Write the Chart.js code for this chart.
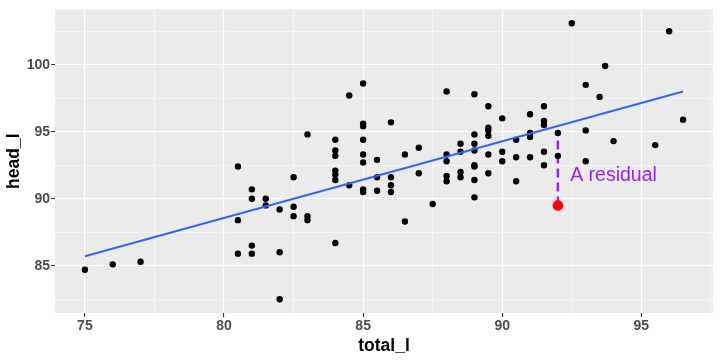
<!DOCTYPE html>
<html>
<head>
<meta charset="utf-8">
<script src="https://cdn.jsdelivr.net/npm/chart.js@4.4.1/dist/chart.umd.min.js"></script>
<style>
  html, body { margin: 0; padding: 0; background: #fff; }
  #wrap { width: 720px; height: 360px; }
</style>
</head>
<body>
<div id="wrap"><canvas id="chart" width="720" height="360"></canvas></div>
<script>
// total length (x) and head length (y)
const totalL = [
  75, 76, 77,
  80.5, 80.5, 80.5,
  81, 81, 81, 81,
  81.5, 81.5,
  82, 82, 82,
  82.5, 82.5, 82.5,
  83, 83, 83,
  84, 84, 84, 84, 84, 84, 84,
  84.5, 84.5,
  85, 85, 85, 85, 85, 85, 85, 85,
  85.5, 85.5, 85.5,
  86, 86, 86, 86,
  86.5, 86.5,
  87, 87,
  87.5,
  88, 88, 88, 88, 88,
  88.5, 88.5, 88.5, 88.5,
  89, 89, 89, 89, 89, 89, 89, 89,
  89.5, 89.5, 89.5, 89.5, 89.5, 89.5,
  90, 90, 90,
  90.5, 90.5, 90.5,
  91, 91, 91, 91,
  91.5, 91.5, 91.5, 91.5, 91.5,
  92, 92, 92,
  92.5,
  93, 93, 93,
  93.5, 93.7, 94, 95.5, 96, 96.5
];
const headL = [
  84.7, 85.1, 85.3,
  92.4, 88.4, 85.9,
  90.7, 90.0, 86.5, 85.9,
  90.0, 89.5,
  89.2, 86.0, 82.5,
  91.6, 89.4, 88.7,
  94.8, 88.7, 88.4,
  94.4, 93.6, 93.2, 92.1, 91.8, 91.4, 86.7,
  97.7, 91.0,
  98.6, 95.6, 95.4, 94.4, 93.3, 92.7, 90.7, 90.5,
  92.9, 91.6, 90.6,
  95.7, 91.6, 91.0, 90.5,
  93.3, 88.3,
  93.8, 91.9,
  89.6,
  98.0, 93.3, 92.8, 91.7, 91.3,
  94.1, 93.5, 92.0, 91.6,
  97.8, 94.8, 94.1, 93.6, 92.5, 92.4, 91.4, 90.1,
  96.9, 95.3, 95.1, 94.7, 93.3, 91.9,
  96.0, 93.5, 92.8,
  94.4, 93.1, 91.3,
  96.3, 94.9, 94.6, 93.1,
  96.9, 95.8, 95.5, 93.5, 92.5,
  94.9, 93.2, 89.5,
  103.1,
  98.5, 95.1, 92.8,
  97.6, 99.9, 94.3, 94.0, 102.5, 95.9
];

// fitted line ends, the highlighted residual and its label
const fitX = [75, 96.5];
const fitY = [85.7, 98.0];
const residX = [92, 92];
const residY = [89.5, 94.9];
const labelText = 'A residual';
const labelX = 94;
const labelY = 91.75;

// axis breaks
const xMajor = [75, 80, 85, 90, 95];
const xMinor = [77.5, 82.5, 87.5, 92.5, 97.5];
const yMajor = [85, 90, 95, 100];
const yMinor = [82.5, 87.5, 92.5, 97.5, 102.5];

const pts = totalL.map((x, i) => ({ x: x, y: headL[i] }));
const toXY = (xs, ys) => xs.map((x, i) => ({ x: x, y: ys[i] }));

const isMajor = (list) => (ctx) => ctx.tick && list.includes(ctx.tick.value);

function breaks(major, minor) {
  return (scale) => {
    scale.ticks = major.concat(minor).sort((a, b) => a - b).map(v => ({ value: v }));
  };
}

const panel = {
  id: 'panel',
  beforeDraw(chart) {
    const { ctx, chartArea: a } = chart;
    ctx.save();
    ctx.fillStyle = '#EBEBEB';
    ctx.fillRect(a.left, a.top, a.right - a.left, a.bottom - a.top);
    ctx.restore();
  },
  afterDraw(chart) {
    const { ctx, scales } = chart;
    ctx.save();
    ctx.font = '19.5px "Liberation Sans", Arial, sans-serif';
    ctx.fillStyle = '#A020F0';
    ctx.textAlign = 'center';
    ctx.textBaseline = 'middle';
    ctx.fillText(labelText, scales.x.getPixelForValue(labelX), scales.y.getPixelForValue(labelY));
    ctx.restore();
  }
};

const tickFont = { family: '"Liberation Sans", Arial, sans-serif', size: 14, weight: 'bold' };
const titleFont = { family: '"Liberation Sans", Arial, sans-serif', size: 17.5, weight: 'bold' };

new Chart(document.getElementById('chart'), {
  type: 'scatter',
  data: {
    datasets: [
      {
        data: toXY(residX, residY),
        showLine: true,
        borderColor: '#A020F0',
        borderWidth: 2.5,
        borderDash: [9, 5],
        pointRadius: 0,
        order: 4
      },
      {
        data: pts,
        backgroundColor: '#000000',
        borderWidth: 0,
        pointRadius: 3.2,
        order: 3
      },
      {
        data: toXY(fitX, fitY),
        showLine: true,
        borderColor: '#3366FF',
        borderWidth: 2,
        pointRadius: 0,
        order: 2
      },
      {
        data: [{ x: residX[0], y: residY[0] }],
        backgroundColor: '#FF0000',
        borderWidth: 0,
        pointRadius: 5.3,
        order: 1
      }
    ]
  },
  options: {
    responsive: false,
    animation: false,
    layout: { padding: { left: 0, right: 7, top: 5, bottom: 0 } },
    plugins: { legend: { display: false }, tooltip: { enabled: false } },
    scales: {
      x: {
        type: 'linear',
        min: 73.925,
        max: 97.575,
        afterBuildTicks: breaks(xMajor, xMinor),
        afterFit: (s) => { s.height = 47; },
        border: { display: false },
        grid: {
          color: '#FFFFFF',
          lineWidth: (ctx) => isMajor(xMajor)(ctx) ? 1.1 : 0.5,
          tickColor: (ctx) => isMajor(xMajor)(ctx) ? '#333333' : 'rgba(0,0,0,0)',
          tickWidth: 1.1,
          tickLength: 4
        },
        ticks: {
          autoSkip: false,
          maxRotation: 0,
          padding: 1,
          color: '#4D4D4D',
          font: tickFont,
          callback: (v) => xMajor.includes(v) ? String(v) : ''
        },
        title: {
          display: true,
          text: 'total_l',
          color: '#000000',
          font: titleFont,
          padding: { top: 0, bottom: 3 }
        }
      },
      y: {
        type: 'linear',
        min: 81.47,
        max: 104.13,
        afterBuildTicks: breaks(yMajor, yMinor),
        afterFit: (s) => { s.width = 55; },
        border: { display: false },
        grid: {
          color: '#FFFFFF',
          lineWidth: (ctx) => isMajor(yMajor)(ctx) ? 1.1 : 0.5,
          tickColor: (ctx) => isMajor(yMajor)(ctx) ? '#333333' : 'rgba(0,0,0,0)',
          tickWidth: 1.1,
          tickLength: 4
        },
        ticks: {
          autoSkip: false,
          padding: 1,
          color: '#4D4D4D',
          font: tickFont,
          callback: (v) => yMajor.includes(v) ? String(v) : ''
        },
        title: {
          display: true,
          text: 'head_l',
          color: '#000000',
          font: titleFont,
          padding: { top: 4, bottom: 0 }
        }
      }
    }
  },
  plugins: [panel]
});
</script>
</body>
</html>
